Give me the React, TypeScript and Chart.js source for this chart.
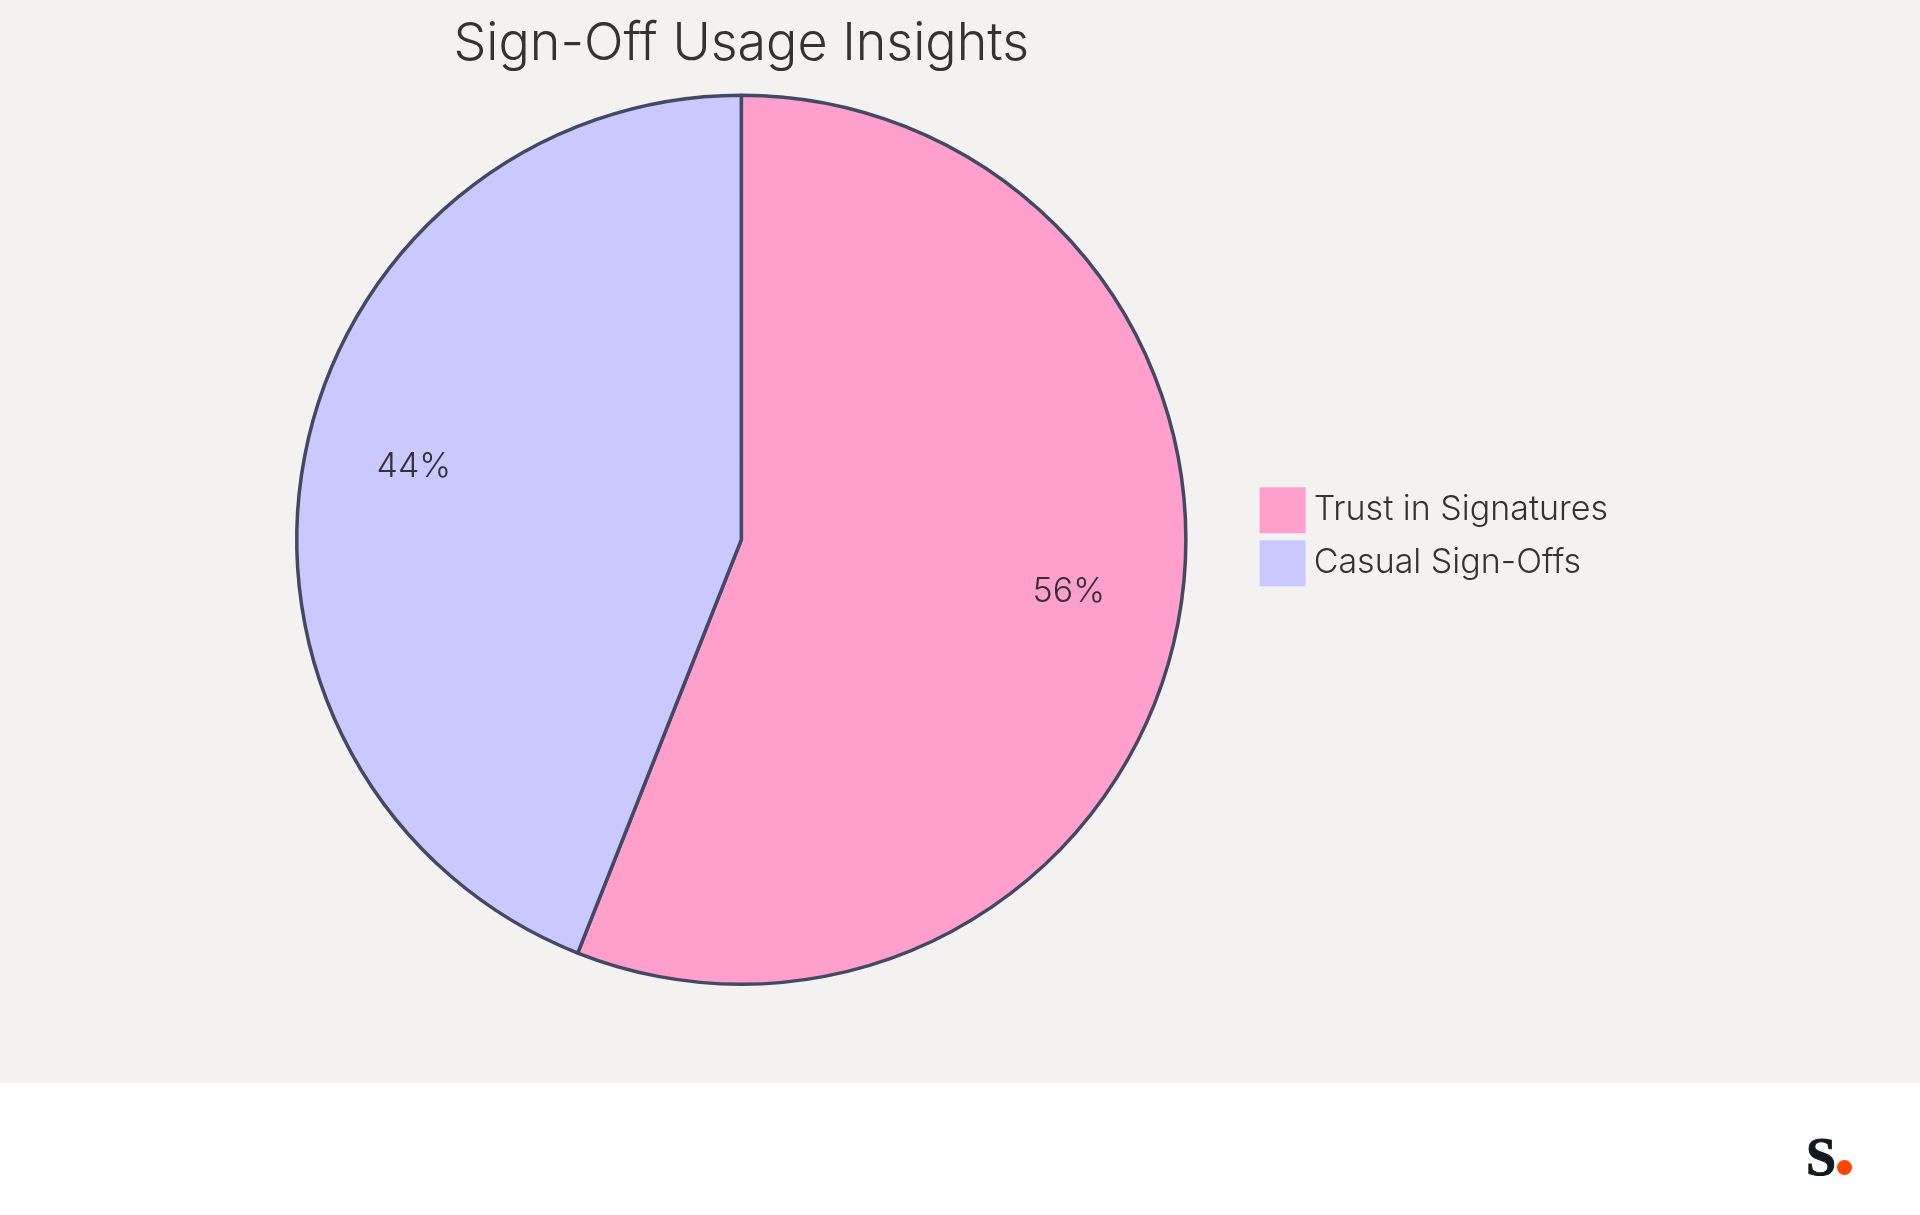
import React, { useEffect, useRef } from "react";
import { Chart, registerables } from "chart.js";

Chart.register(...registerables);

const categories = ["Trust in Signatures", "Casual Sign-Offs"];
const shares = [56, 44];
const sliceColors = ["#FF9FCB", "#C9C9FF"];
const titleText = "Sign-Off Usage Insights";
const FONT = "Inter";
const TEXT = "#333333";

const percentLabels = {
  id: "percentLabels",
  afterDatasetsDraw(chart: any) {
    const { ctx } = chart;
    const total = shares.reduce((a, b) => a + b, 0);
    chart.getDatasetMeta(0).data.forEach((arc: any, i: number) => {
      const mid = (arc.startAngle + arc.endAngle) / 2;
      const r = arc.outerRadius * 0.75;
      ctx.save();
      ctx.font = `300 34px ${FONT}`;
      ctx.fillStyle = TEXT;
      ctx.textAlign = "center";
      ctx.textBaseline = "middle";
      ctx.fillText(`${Math.round((shares[i] / total) * 100)}%`, arc.x + Math.cos(mid) * r, arc.y + Math.sin(mid) * r - 10);
      ctx.restore();
    });
  },
};

const nudgeLegend = {
  id: "nudgeLegend",
  afterLayout(chart: any) {
    chart.legend.top -= 3;
    chart.legend.bottom -= 3;
  },
};

export default function App() {
  const ref = useRef<HTMLCanvasElement>(null);
  useEffect(() => {
    const chart = new Chart(ref.current!, {
      type: "pie",
      data: {
        labels: categories,
        datasets: [
          {
            data: shares,
            backgroundColor: sliceColors,
            borderColor: "#434863",
            borderWidth: 3.5,
          },
        ],
      },
      options: {
        animation: false,
        responsive: false,
        devicePixelRatio: 1,
        layout: { padding: { left: 233, right: 302, top: 0, bottom: 97 } },
        plugins: {
          tooltip: { enabled: false },
          title: {
            display: true,
            text: titleText,
            fullSize: false,
            color: TEXT,
            font: { family: FONT, size: 52, weight: "300", lineHeight: 1.2 },
            padding: { top: 13, bottom: 18 },
          },
          legend: {
            position: "right",
            align: "center",
            fullSize: false,
            labels: {
              boxWidth: 28,
              boxHeight: 28,
              padding: 19,
              color: TEXT,
              font: { family: FONT, size: 34, weight: "300" },
              generateLabels: () =>
                categories.map((text, i) => ({
                  text,
                  fillStyle: sliceColors[i],
                  strokeStyle: sliceColors[i],
                  lineWidth: 18,
                  index: i,
                  hidden: false,
                  fontColor: TEXT,
                })),
            },
          },
        },
      } as any,
      plugins: [percentLabels, nudgeLegend],
    });
    return () => chart.destroy();
  }, []);

  return (
    <div style={{ position: "relative", width: 1920, height: 1215, background: "#ffffff", overflow: "hidden" }}>
      <style>{"html,body{margin:0;padding:0;background:#fff;overflow:hidden}"}</style>
      <canvas ref={ref} width={1920} height={1083} style={{ display: "block", width: 1920, height: 1083, background: "#F3F2F0" }} />
      <div
        style={{
          position: "absolute",
          left: 1806,
          top: 1130,
          fontFamily: "'Liberation Serif', serif",
          fontWeight: 700,
          fontSize: 54,
          lineHeight: "54px",
          color: "#14191F",
          WebkitTextStroke: "1px #14191F",
        }}
      >
        S
      </div>
      <div style={{ position: "absolute", left: 1837, top: 1160, width: 15, height: 15, borderRadius: "50%", background: "#FF4500" }} />
    </div>
  );
}
